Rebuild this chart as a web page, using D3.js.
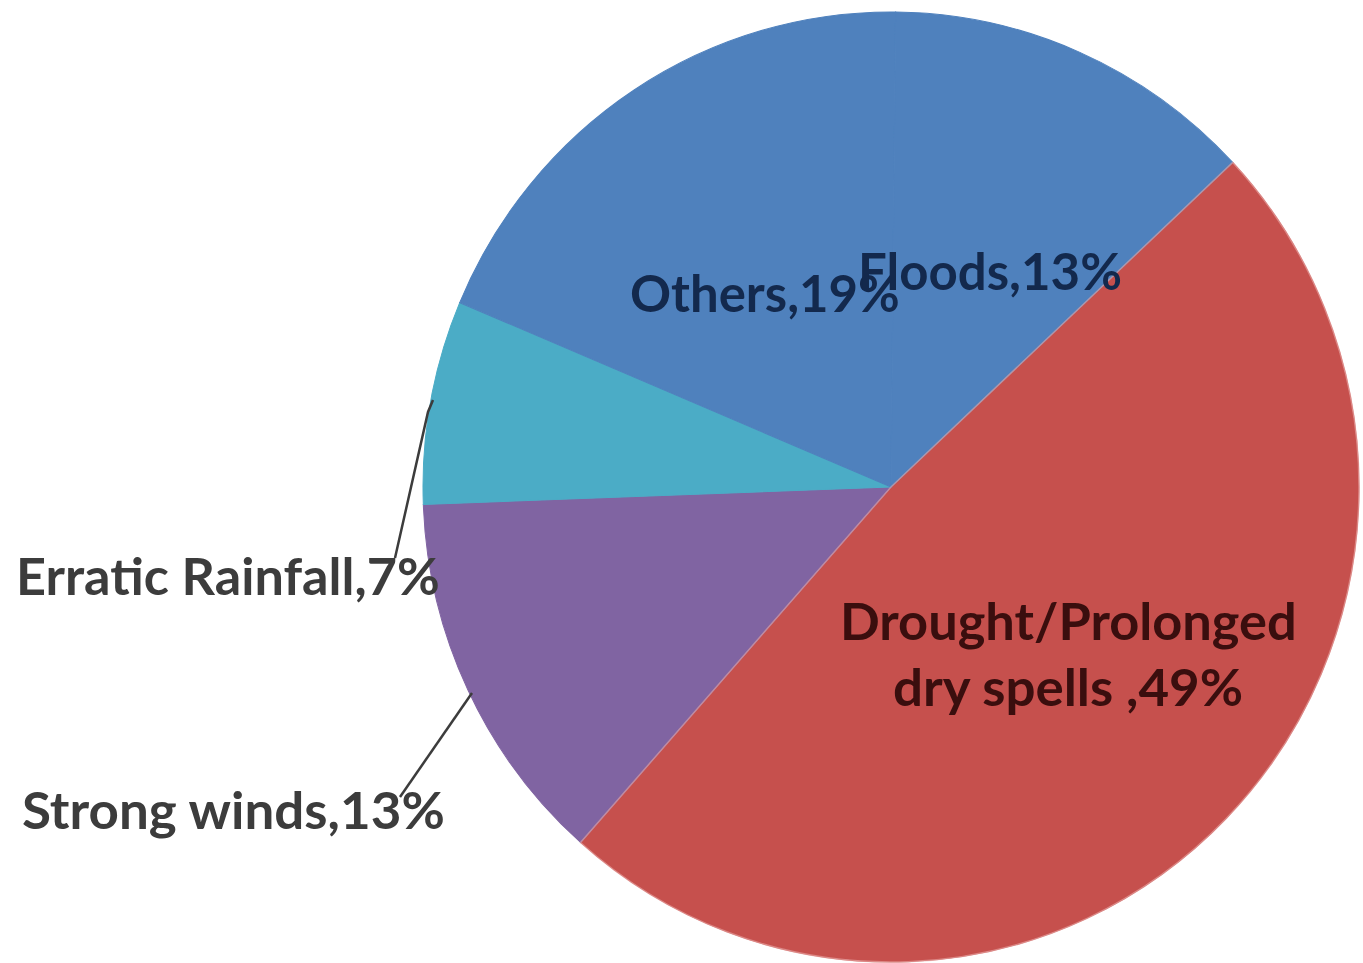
<!DOCTYPE html>
<html>
<head>
<meta charset="utf-8">
<script src="https://cdn.jsdelivr.net/npm/d3@7"></script>
<style>
  html, body { margin: 0; padding: 0; background: #fff; }
  svg { display: block; }
  .lbl { font-family: Lato, "Open Sans", sans-serif; font-weight: 700; }
</style>
</head>
<body>
<svg id="chart"></svg>
<script>
// slice data, in drawing order (clockwise from the upper right)
const categories = ["Drought/Prolonged dry spells", "Strong winds", "Erratic Rainfall", "Others", "Floods"];
const values = [49, 13, 7, 19, 13];
const labelLines = [["Drought/Prolonged", "dry spells ,49%"], ["Strong winds,13%"], ["Erratic Rainfall,7%"], ["Others,19%"], ["Floods,13%"]];
const colors = ["#c6504d", "#8064a2", "#4bacc6", "#4f81bd", "#4f81bd"];

const width = 1363, height = 963;
const cx = 891, cy = 487, r = 468;
const startDeg = 46.9;
const fontSize = 52;

// label layout: left x, baseline y, target width for each line
const labelLayout = [
  [{ x: 840, y: 640, w: 457 }, { x: 893, y: 706, w: 350 }],
  [{ x: 22, y: 829, w: 423 }],
  [{ x: 16, y: 595, w: 424 }],
  [{ x: 630, y: 312, w: 270 }],
  [{ x: 858, y: 290, w: 264 }]
];
const labelColors = ["#3a0e0e", "#3c3c3c", "#3c3c3c", "#13294d", "#13294d"];
// leader lines for the outside labels
const leaders = [
  [[472, 693], [400, 797]],
  [[433, 400], [428, 412], [395, 558]]
];

const svg = d3.select("#chart").attr("width", width).attr("height", height);

const pie = d3.pie().sort(null)
  .startAngle(startDeg * Math.PI / 180)
  .endAngle(startDeg * Math.PI / 180 + 2 * Math.PI);
const arcs = pie(values);
const arc = d3.arc().innerRadius(0).outerRadius(r);

const g = svg.append("g").attr("transform", "translate(" + cx + "," + cy + ") scale(1,1.015)");

g.selectAll("path")
  .data(arcs)
  .enter().append("path")
  .attr("d", arc)
  .attr("fill", (d, i) => colors[i])
  .attr("stroke", (d, i) => colors[i]);

// faint light edge along the red slice
g.append("path")
  .attr("d", arc(arcs[0]))
  .attr("fill", "none")
  .attr("stroke", "#e8a7a5")
  .attr("stroke-opacity", 0.6)
  .attr("stroke-width", 1.5);

leaders.forEach(p => {
  svg.append("path")
    .attr("d", d3.line()(p))
    .attr("fill", "none")
    .attr("stroke", "#3c3c3c")
    .attr("stroke-width", 2.5);
});

labelLines.forEach((lines, i) => {
  lines.forEach((txt, j) => {
    const pos = labelLayout[i][j];
    const t = svg.append("text")
      .attr("class", "lbl")
      .attr("x", 0)
      .attr("y", 0)
      .attr("fill", labelColors[i])
      .style("font-size", fontSize + "px")
      .text(txt);
    const k = pos.w / t.node().getComputedTextLength();
    t.attr("transform", "translate(" + pos.x + "," + pos.y + ") scale(" + k.toFixed(3) + ",1)");
  });
});
</script>
</body>
</html>
